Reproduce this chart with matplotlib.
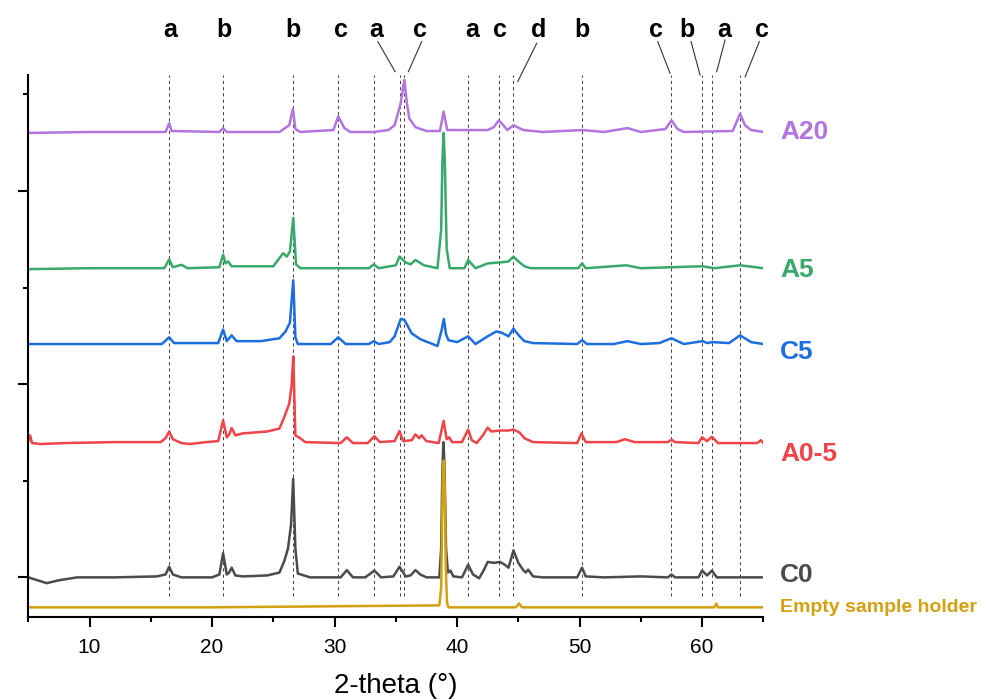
import numpy as np
import matplotlib
matplotlib.use("Agg")
import matplotlib.pyplot as plt
from matplotlib.ticker import MultipleLocator

plt.rcParams['font.family'] = ['Liberation Sans', 'DejaVu Sans']

# ---- data (2-theta in deg, intensity in arbitrary stacked units) ----
empty_x = [5, 20, 38.55, 38.7, 38.78, 38.85, 38.92, 39.0, 39.08, 39.18, 39.3, 44.8, 45.05, 45.3, 61.0, 61.15, 61.3, 65]
empty_y = [0, 0, 0.02, 0.2, 0.9, 1.45, 1.52, 1.2, 0.4, 0.05, 0, 0, 0.04, 0, 0, 0.04, 0, 0]

c0_x = [5.0, 5.5, 6.5, 7.5, 9, 12, 15.5, 16.2, 16.5, 16.8, 17.5, 20.0, 20.6, 20.9, 21.2, 21.4, 21.6, 21.9,
        22.5, 24.5, 25.5, 25.9, 26.2, 26.45, 26.62, 26.8, 27.0, 28, 30.5, 31.0, 31.5, 32.5, 33.25, 33.8,
        34.8, 35.3, 35.8, 36.2, 36.6, 37.0, 37.5, 38.55, 38.7, 38.8, 38.88, 38.96, 39.1, 39.25, 39.45, 39.7,
        40.4, 40.9, 41.3, 41.8, 42.2, 42.5, 43.0, 43.5, 43.9, 44.2, 44.6, 45.0, 45.4, 45.6, 45.8, 46.2, 47,
        49.8, 50.2, 50.5, 52, 55, 57.2, 57.5, 57.8, 59.7, 60.0, 60.4, 60.8, 61.2, 65]
c0_y = [0.0, -0.02, -0.06, -0.03, 0.0, 0.0, 0.01, 0.03, 0.11, 0.03, 0.0, 0.0, 0.03, 0.25, 0.03, 0.05, 0.10, 0.02,
        0.01, 0.02, 0.05, 0.17, 0.3, 0.55, 1.02, 0.3, 0.04, 0.0, 0.0, 0.075, 0.0, 0.0, 0.07, 0.0,
        0.01, 0.11, 0.01, 0.02, 0.075, 0.03, 0.0, 0.0, 0.3, 1.1, 1.40, 1.2, 0.3, 0.05, 0.07, 0.01,
        0.0, 0.13, 0.03, -0.01, 0.08, 0.16, 0.15, 0.16, 0.13, 0.1, 0.28, 0.15, 0.075, 0.05, 0.08, 0.01, 0.0,
        0.0, 0.1, 0.01, 0.0, 0.01, 0.0, 0.03, 0.0, 0.0, 0.07, 0.02, 0.07, 0.0, 0.0]

a05_x = [5.0, 5.15, 5.3, 6, 8, 12, 15.8, 16.2, 16.5, 16.8, 17.5, 18.2, 19.5, 20.5, 20.9, 21.2, 21.4, 21.6, 21.9,
         22.5, 23.5, 24.5, 25.5, 25.9, 26.3, 26.5, 26.63, 26.8, 27.2, 27.6, 30.5, 31.0, 31.5, 32.7, 33.25,
         33.7, 34.9, 35.3, 35.6, 36.3, 36.6, 36.9, 37.1, 37.5, 38.5, 38.9, 39.15, 39.35, 39.6, 40.4, 40.9,
         41.2, 41.6, 42.1, 42.5, 42.8, 43.5, 44.2, 44.6, 45.1, 45.5, 46.2, 49.8, 50.15, 50.5, 53, 53.7, 54.5,
         57.2, 57.5, 57.8, 59.7, 60.0, 60.4, 60.8, 61.3, 64.5, 64.8, 65]
a05_y = [0.02, 0.08, 0.0, -0.01, 0.0, 0.01, 0.01, 0.05, 0.12, 0.04, 0.0, -0.01, 0.01, 0.02, 0.235, 0.06, 0.09, 0.155, 0.08,
         0.1, 0.11, 0.12, 0.15, 0.27, 0.41, 0.6, 0.896, 0.08, 0.05, 0.01, 0.0, 0.06, 0.0, 0.0, 0.07,
         0.01, 0.02, 0.125, 0.02, 0.03, 0.09, 0.05, 0.08, 0.02, 0.0, 0.23, 0.04, 0.06, 0.01, 0.01, 0.14,
         0.03, 0.0, 0.08, 0.16, 0.12, 0.13, 0.13, 0.14, 0.11, 0.05, 0.01, 0.0, 0.1, 0.01, 0.01, 0.04, 0.01,
         0.01, 0.035, 0.01, 0.0, 0.06, 0.02, 0.065, 0.0, 0.0, 0.03, 0.0]

c5_x = [5, 10, 15.9, 16.5, 16.9, 20.5, 20.9, 21.2, 21.6, 22.0, 24, 25.5, 26.0, 26.35, 26.63, 26.8, 27.0, 29.7,
        30.3, 30.9, 32.8, 33.2, 33.6, 34.5, 34.9, 35.4, 35.7, 36.3, 37.0, 38.0, 38.4, 38.75, 38.92, 39.1, 39.3,
        40.0, 40.9, 41.5, 42.5, 43.2, 43.6, 44.2, 44.6, 45.1, 45.5, 46.2, 49.8, 50.2, 50.6, 52.8, 53.9, 55,
        56.5, 57.5, 58.5, 60.05, 60.4, 60.84, 62.2, 63.1, 64.0, 65]
c5_y = [0.0, 0.0, 0.0, 0.07, 0.01, 0.01, 0.15, 0.03, 0.09, 0.03, 0.03, 0.06, 0.13, 0.22, 0.66, 0.07, 0.0, 0.0,
        0.07, 0.0, 0.0, 0.03, 0.0, 0.02, 0.08, 0.26, 0.25, 0.11, 0.05, 0.0, -0.02, 0.15, 0.26, 0.1, 0.04,
        0.02, 0.08, 0.0, 0.08, 0.13, 0.12, 0.08, 0.16, 0.08, 0.03, 0.01, 0.0, 0.04, 0.0, 0.0, 0.03, 0.0,
        0.01, 0.06, 0.0, 0.03, 0.01, 0.02, 0.01, 0.09, 0.02, 0.0]

a5_x = [5, 10, 16.1, 16.5, 16.8, 17.5, 18, 20.6, 20.9, 21.1, 21.3, 21.6, 25, 25.8, 26.1, 26.35, 26.63, 26.85,
        27.2, 32.8, 33.2, 33.6, 35.0, 35.3, 35.8, 36.2, 36.6, 37.3, 38.4, 38.7, 38.8, 38.9, 39.0, 39.15, 39.4,
        40.6, 40.9, 41.5, 42.5, 43.5, 44.2, 44.6, 45.0, 45.5, 46, 49.9, 50.2, 50.5, 53.8, 55, 57.5, 60.0, 61,
        63.1, 65]
a5_y = [-0.01, 0.0, 0.0, 0.09, 0.01, 0.035, 0.0, 0.01, 0.14, 0.05, 0.07, 0.02, 0.02, 0.155, 0.12, 0.17, 0.52, 0.04,
        0.0, 0.0, 0.04, 0.0, 0.03, 0.12, 0.06, 0.04, 0.085, 0.03, 0.0, 0.4, 1.1, 1.40, 1.1, 0.2, 0.0,
        0.0, 0.085, 0.0, 0.05, 0.06, 0.07, 0.12, 0.07, 0.02, 0.0, 0.0, 0.05, 0.0, 0.03, 0.0, 0.01, 0.02, 0.0,
        0.03, 0.0]

a20_x = [5, 10, 16.2, 16.5, 16.7, 20.6, 20.9, 21.2, 25.5, 26.3, 26.6, 26.8, 27.2, 29.9, 30.3, 30.8, 31.3, 33.2,
         34.4, 34.9, 35.4, 35.7, 35.9, 36.1, 36.6, 37.5, 38.6, 38.9, 39.2, 42.5, 43.0, 43.4, 43.7, 44.1, 44.6,
         45.4, 47, 50.2, 52, 53.9, 55, 57.0, 57.5, 58.0, 58.5, 62.5, 63.1, 63.5, 64.0, 65]
a20_y = [-0.01, 0.0, 0.0, 0.09, 0.01, 0.0, 0.04, 0.0, 0.0, 0.07, 0.24, 0.03, 0.0, 0.02, 0.16, 0.04, 0.0, 0.0,
         0.02, 0.07, 0.3, 0.54, 0.3, 0.14, 0.05, 0.01, 0.01, 0.21, 0.02, 0.02, 0.05, 0.12, 0.08, 0.02, 0.07,
         0.02, 0.0, 0.02, 0.0, 0.04, 0.0, 0.03, 0.12, 0.03, 0.0, 0.01, 0.19, 0.07, 0.02, 0.0]

names = ["A20", "A5", "C5", "A0-5", "C0", "Empty sample holder"]
offsets = [4.61, 3.20, 2.415, 1.39, 0.0, -0.31]
colors = ["#b174e0", "#39a96b", "#1c6ee0", "#f04449", "#4b4b4b", "#d3a00f"]
series = [(a20_x, a20_y), (a5_x, a5_y), (c5_x, c5_y), (a05_x, a05_y), (c0_x, c0_y), (empty_x, empty_y)]
label_y = [4.61, 3.18, 2.33, 1.28, 0.02, -0.31]

# reference peak positions (dashed lines) and the letters above them
ref_pos = [16.5, 20.9, 26.6, 30.3, 33.2, 35.3, 35.7, 40.9, 43.4, 44.6, 50.2, 57.5, 60.0, 60.8, 63.1]
letters = ["a", "b", "b", "c", "a", "c", "a", "c", "d", "b", "c", "b", "a", "c"]
letter_x = [16.6, 21.0, 26.6, 30.5, 33.4, 37.0, 41.2, 43.5, 46.7, 50.2, 56.25, 58.8, 61.8, 64.9]
# leader lines: (letter index, start x, start y, end x, end y)
leaders = [(4, 33.53, 5.545, 34.94, 5.234), (5, 37.11, 5.545, 36.02, 5.234), (8, 46.50, 5.528, 44.95, 5.131),
           (10, 56.38, 5.545, 57.38, 5.218), (11, 59.10, 5.545, 59.83, 5.20), (12, 61.87, 5.562, 61.19, 5.234),
           (13, 64.67, 5.545, 63.51, 5.18)]

fig = plt.figure(figsize=(9.86, 7.0), dpi=100)
ax = fig.add_axes([0.0287, 0.1186, 0.7455, 0.7743])

ax.vlines(ref_pos, -0.19, 5.2, colors="#444444", linestyles=(0, (3, 3)), linewidth=0.75, zorder=1)

for (xs, ys), off, col in zip(series, offsets, colors):
    ax.plot(xs, np.array(ys) + off, color=col, linewidth=1.8, zorder=2)

for name, ly, col in zip(names, label_y, colors):
    fs = 14 if name.startswith("Empty") else 19
    ax.text(66.35, ly, name, color=col, fontsize=fs, fontweight="bold", va="center", ha="left", clip_on=False)

for lab, lx in zip(letters, letter_x):
    ax.text(lx, 5.67, lab, fontsize=18, fontweight="bold", ha="center", va="center", clip_on=False)
for i, x0, y0, x1, y1 in leaders:
    ax.plot([x0, x1], [y0, y1], color="#333333", linewidth=0.8, clip_on=False)

ax.set_xlim(5, 65)
ax.set_ylim(-0.41, 5.2)
ax.spines["top"].set_visible(False)
ax.spines["right"].set_visible(False)
ax.spines["left"].set_linewidth(1.5)
ax.spines["bottom"].set_linewidth(1.5)
ax.xaxis.set_major_locator(MultipleLocator(10))
ax.xaxis.set_minor_locator(MultipleLocator(5))
ax.yaxis.set_major_locator(MultipleLocator(2))
ax.yaxis.set_minor_locator(MultipleLocator(1))
ax.tick_params(which="major", length=7, width=1.5, labelsize=15, pad=8)
ax.tick_params(which="minor", length=3.5, width=1.5)
ax.tick_params(axis="y", labelleft=False)
ax.set_xlabel("2-theta (°)", fontsize=20, labelpad=12)

fig.savefig("out.png", dpi=100)
